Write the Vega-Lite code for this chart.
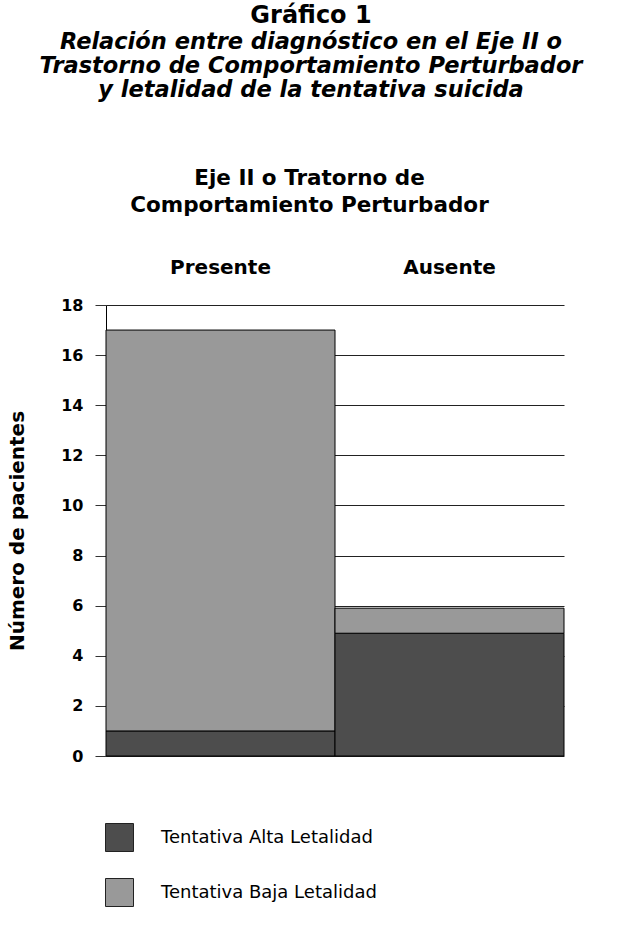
{
  "$schema": "https://vega.github.io/schema/vega-lite/v6.json",
  "width": 458,
  "height": 451,
  "autosize": {"type": "none"},
  "padding": {"left": 106, "top": 305, "right": 59, "bottom": 176},
  "background": "white",
  "title": {
    "text": "Gráfico 1",
    "subtitle": ["Relación entre diagnóstico en el Eje II o", "Trastorno de Comportamiento Perturbador", "y letalidad de la tentativa suicida"],
    "anchor": "middle",
    "dx": -24,
    "offset": 66,
    "font": "DejaVu Sans",
    "fontSize": 24,
    "fontWeight": "bold",
    "color": "black",
    "subtitleFont": "DejaVu Sans",
    "subtitleFontSize": 22.5,
    "subtitleFontWeight": "bold",
    "subtitleFontStyle": "italic",
    "subtitleColor": "black",
    "subtitleLineHeight": 24,
    "subtitlePadding": 3
  },
  "data": {
    "values": [
      {"grupo": "Presente", "letalidad": "Tentativa Alta Letalidad", "pacientes": 1},
      {"grupo": "Presente", "letalidad": "Tentativa Baja Letalidad", "pacientes": 16},
      {"grupo": "Ausente", "letalidad": "Tentativa Alta Letalidad", "pacientes": 4.9},
      {"grupo": "Ausente", "letalidad": "Tentativa Baja Letalidad", "pacientes": 1}
    ]
  },
  "mark": {"type": "bar", "stroke": "black", "strokeWidth": 1},
  "encoding": {
    "x": {
      "field": "grupo",
      "type": "nominal",
      "sort": ["Presente", "Ausente"],
      "scale": {"paddingInner": 0, "paddingOuter": 0},
      "axis": {
        "orient": "top",
        "title": ["Eje II o Tratorno de", "Comportamiento Perturbador"],
        "titleFont": "DejaVu Sans",
        "titleFontSize": 21.5,
        "titleFontWeight": "bold",
        "titleColor": "black",
        "titleLineHeight": 27,
        "titleX": 203,
        "titlePadding": 41,
        "labelAngle": 0,
        "labelFont": "DejaVu Sans",
        "labelFontSize": 20,
        "labelFontWeight": "bold",
        "labelColor": "black",
        "labelPadding": 28,
        "domain": false,
        "ticks": false
      }
    },
    "y": {
      "field": "pacientes",
      "type": "quantitative",
      "stack": "zero",
      "scale": {"domain": [0, 18], "nice": false},
      "axis": {
        "values": [0, 2, 4, 6, 8, 10, 12, 14, 16, 18],
        "title": "Número de pacientes",
        "titleFont": "DejaVu Sans",
        "titleFontSize": 20,
        "titleFontWeight": "bold",
        "titleColor": "black",
        "titlePadding": 33,
        "labelFont": "DejaVu Sans",
        "labelFontSize": 16,
        "labelFontWeight": "bold",
        "labelColor": "black",
        "labelPadding": 12,
        "tickSize": 11,
        "tickColor": "#333",
        "domainColor": "black",
        "grid": true,
        "gridColor": "#222",
        "gridOpacity": 1
      }
    },
    "color": {
      "field": "letalidad",
      "type": "nominal",
      "scale": {"domain": ["Tentativa Alta Letalidad", "Tentativa Baja Letalidad"], "range": ["#4d4d4d", "#999999"]},
      "legend": {
        "orient": "none",
        "legendX": -1,
        "legendY": 518,
        "direction": "vertical",
        "title": null,
        "symbolType": "square",
        "symbolSize": 784,
        "symbolStrokeColor": "#222",
        "symbolStrokeWidth": 1,
        "labelFont": "DejaVu Sans",
        "labelFontSize": 18,
        "labelColor": "black",
        "labelLimit": 400,
        "labelOffset": 27,
        "rowPadding": 22
      }
    },
    "order": {"field": "letalidad", "sort": "ascending"}
  },
  "config": {
    "view": {"stroke": null},
    "axis": {"gridWidth": 1}
  }
}
